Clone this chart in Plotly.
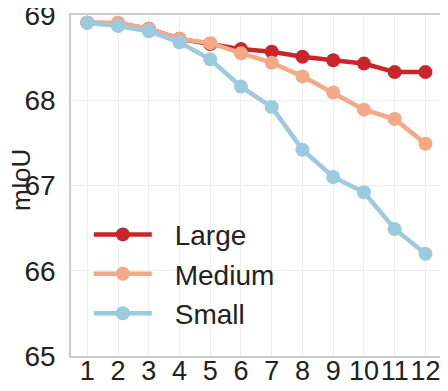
import plotly.graph_objects as go

x_vals = list(range(1, 13))
large = [68.91, 68.90, 68.84, 68.72, 68.66, 68.60, 68.57, 68.51, 68.47, 68.43, 68.33, 68.33]
medium = [68.91, 68.91, 68.84, 68.72, 68.67, 68.55, 68.44, 68.28, 68.09, 67.89, 67.78, 67.49]
small = [68.91, 68.87, 68.81, 68.68, 68.48, 68.16, 67.92, 67.42, 67.10, 66.92, 66.49, 66.20]
y_ticks = [65, 66, 67, 68, 69]
y_title = "mIoU"

series = [("Large", large, "#c9252b"), ("Medium", medium, "#f5a886"), ("Small", small, "#9ccadf")]

fig = go.Figure()
for name, vals, col in series:
    fig.add_trace(go.Scatter(
        x=x_vals, y=vals, name="\u00a0\u00a0\u200a" + name, mode="lines+markers", legendgroup=name,
        line=dict(color=col, width=4.5),
        marker=dict(color=col, size=14),
    ))

font_family = "Liberation Sans, Arial, sans-serif"
# page body has an 8px margin, so the figure is sized/offset accordingly
fig.update_layout(
    width=440, height=383,
    margin=dict(l=63, r=6, t=7, b=35, autoexpand=False),
    paper_bgcolor="white", plot_bgcolor="white",
    font=dict(family=font_family, size=28, color="#222222"),
    showlegend=True,
    legend=dict(
        x=0.048, y=0.429, xanchor="left", yanchor="top",
        bgcolor="rgba(0,0,0,0)", font=dict(size=28, color="#222222"),
        tracegroupgap=0, itemwidth=58,
    ),
    xaxis=dict(
        range=[0.47, 12.54], tickmode="array", tickvals=x_vals,
        showgrid=True, gridcolor="#eeeeee", gridwidth=1,
        showline=True, linecolor="#cccccc", linewidth=1.5, mirror=True,
        ticks="", tickfont=dict(size=27), tickangle=0, zeroline=False, automargin=False,
        ticklabeloverflow="allow", ticklabelstandoff=-10,
    ),
    yaxis=dict(
        range=[65, 69], tickmode="array", tickvals=y_ticks,
        showgrid=True, gridcolor="#eeeeee", gridwidth=1,
        showline=True, linecolor="#cccccc", linewidth=1.5, mirror=True,
        ticks="", tickfont=dict(size=28), zeroline=False, automargin=False,
        ticklabeloverflow="allow", ticklabelstandoff=8,
    ),
    annotations=[dict(
        text=y_title, textangle=-90, xref="paper", yref="paper",
        x=-0.135, y=0.516, xanchor="center", yanchor="middle",
        showarrow=False, font=dict(size=26, color="#222222"),
    )],
)

fig.write_html("out.html")
